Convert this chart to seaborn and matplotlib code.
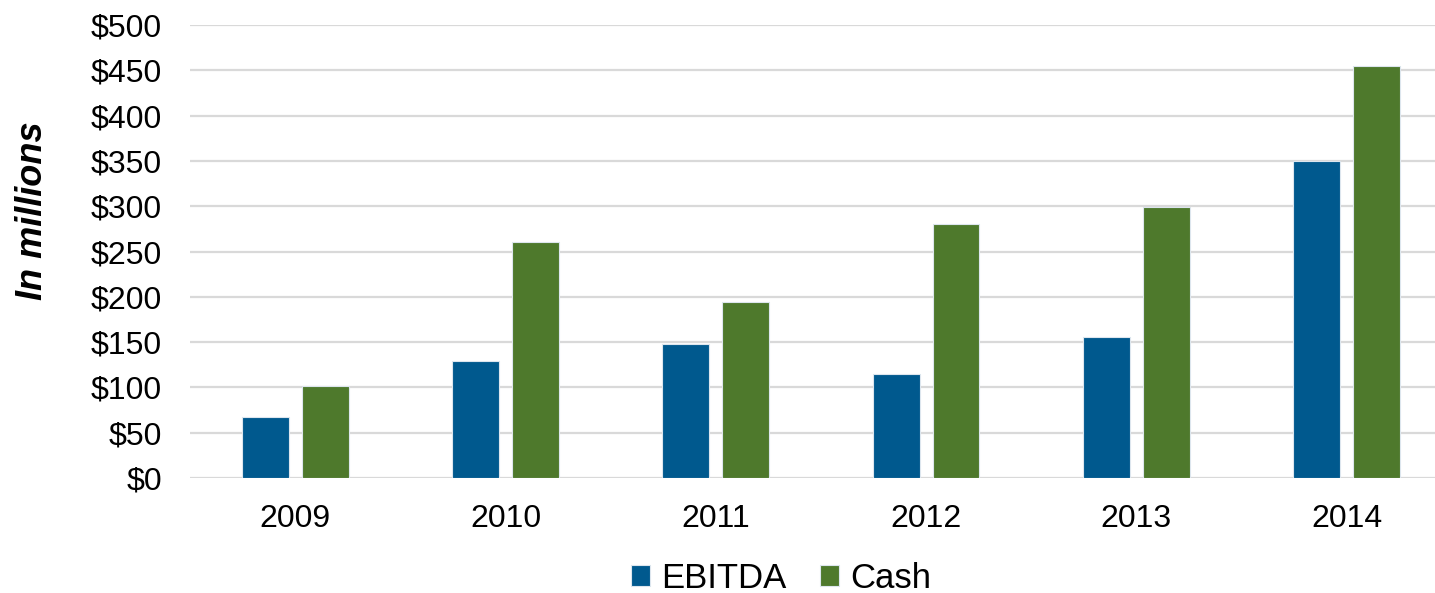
import pandas as pd
import matplotlib
matplotlib.use("Agg")
import matplotlib.pyplot as plt
import seaborn as sns

# data (USD millions)
years = ["2009", "2010", "2011", "2012", "2013", "2014"]
ebitda = [67, 129, 148, 115, 156, 350]
cash = [102, 260, 194, 280, 299, 455]
series_names = ["EBITDA", "Cash"]
colors = ["#00598E", "#4E792C"]
yticks = [0, 50, 100, 150, 200, 250, 300, 350, 400, 450, 500]

df = pd.DataFrame({
    "Year": years * 2,
    "Value": ebitda + cash,
    "Series": [series_names[0]] * len(years) + [series_names[1]] * len(years),
})

sns.set_style("white")
plt.rcParams["font.family"] = ["Liberation Sans", "DejaVu Sans"]
plt.rcParams["text.color"] = "black"
plt.rcParams["xtick.color"] = "black"
plt.rcParams["ytick.color"] = "black"
plt.rcParams["axes.labelcolor"] = "black"

fig = plt.figure(figsize=(14.35, 5.93), dpi=100)
ax = fig.add_axes([190 / 1435, 1 - 478 / 593, 1 - 190 / 1435, (478 - 25) / 593])

sns.barplot(data=df, x="Year", y="Value", hue="Series", palette=colors,
            saturation=1, width=0.57, gap=0.217, ax=ax, edgecolor="#DDE6EE",
            linewidth=0.8, zorder=3)

ax.set_ylim(0, 500)
ax.set_xlim(-0.5, 5.42)
ax.set_yticks(yticks)
ax.set_yticklabels([f"${v}" for v in yticks])
ax.yaxis.grid(True, color="#D9D9D9", linewidth=1.6, zorder=0)
ax.set_axisbelow(True)
for s in ax.spines.values():
    s.set_visible(False)
ax.tick_params(axis="y", length=0, pad=20, labelsize=23)
ax.tick_params(axis="x", length=0, pad=18.5, labelsize=23)
ax.set_xlabel("")
ax.set_ylabel("In millions", fontsize=26, fontweight="bold", fontstyle="italic")
ax.yaxis.set_label_coords(-0.1124, 0.589)

ax.legend(loc="center", bbox_to_anchor=(0.4747, -0.2208),
          ncol=2, frameon=False, fontsize=25, handlelength=0.55, handleheight=0.55,
          handletextpad=0.32, columnspacing=0.95)

plt.savefig("out.png", dpi=100)
